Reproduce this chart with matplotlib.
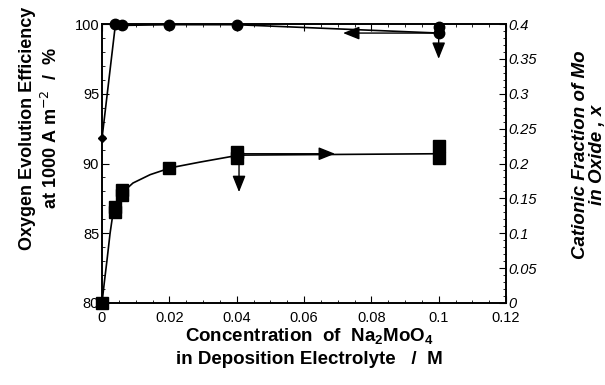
import matplotlib
matplotlib.use("Agg")
import matplotlib.pyplot as plt
from matplotlib.ticker import MultipleLocator, FixedLocator

plt.rcParams['font.family'] = ['Liberation Sans', 'DejaVu Sans']

# oxygen evolution efficiency (left axis)
eff_x = [0, 0.004, 0.006, 0.02, 0.04, 0.1]
eff_y = [91.8, 100.0, 99.9, 99.95, 99.95, 99.35]
eff_x2 = [0.1]
eff_y2 = [99.8]

# cationic fraction of Mo (right axis)
mo_x = [0, 0.004, 0.004, 0.006, 0.006, 0.02, 0.04, 0.04, 0.1, 0.1]
mo_y = [0, 0.130, 0.138, 0.155, 0.162, 0.194, 0.208, 0.217, 0.208, 0.225]
# fitted curve
fit_x = [0, 0.0007, 0.0015, 0.0024, 0.0033, 0.0053, 0.0092, 0.0143, 0.0205, 0.0291, 0.0407, 0.1]
fit_y = [0, 0.030, 0.062, 0.100, 0.130, 0.155, 0.172, 0.184, 0.194, 0.202, 0.212, 0.214]

x_ticks = [0, 0.02, 0.04, 0.06, 0.08, 0.1, 0.12]
x_labels = ['0', '0.02', '0.04', '0.06', '0.08', '0.1', '0.12']
left_ticks = [80, 85, 90, 95, 100]
right_ticks = [0, 0.05, 0.1, 0.15, 0.2, 0.25, 0.3, 0.35, 0.4]
right_labels = ['0', '0.05', '0.1', '0.15', '0.2', '0.25', '0.3', '0.35', '0.4']

fig = plt.figure(figsize=(6.05, 3.85), dpi=100)
ax = fig.add_axes([102 / 605, 1 - 303 / 385, 404 / 605, 279 / 385])
ax2 = ax.twinx()

ax.set_xlim(0, 0.12)
ax.set_ylim(80, 100)
ax2.set_ylim(0, 0.4)

# efficiency
ax.plot(eff_x, eff_y, color='black', lw=1.2, clip_on=False, zorder=3)
ax.plot(eff_x[1:], eff_y[1:], 'o', color='black', ms=7.5, clip_on=False, zorder=4)
ax.plot(eff_x2, eff_y2, 'o', color='black', ms=7.5, clip_on=False, zorder=4)
ax.plot(eff_x[:1], eff_y[:1], 'D', color='black', ms=4.5, clip_on=False, zorder=4)

# Mo fraction
ax2.plot(fit_x, fit_y, color='black', lw=1.2, clip_on=False, zorder=3)
ax2.plot(mo_x, mo_y, 's', color='black', ms=8.5, clip_on=False, zorder=4)

# arrows pointing to the relevant axis
arrow = dict(arrowstyle='-|>,head_length=1.0,head_width=0.4', color='black', lw=1.0,
             shrinkA=0, shrinkB=0)
ax.annotate('', xy=(0.0716, 99.35), xytext=(0.1, 99.35), arrowprops=arrow)
ax.annotate('', xy=(0.1, 97.5), xytext=(0.1, 99.3), arrowprops=arrow)
ax2.annotate('', xy=(0.0692, 0.214), xytext=(0.0407, 0.214), arrowprops=arrow)
ax2.annotate('', xy=(0.0407, 0.159), xytext=(0.0407, 0.2), arrowprops=arrow)

ax.xaxis.set_major_locator(FixedLocator(x_ticks))
ax.set_xticklabels(x_labels)
ax.xaxis.set_minor_locator(MultipleLocator(0.005))
ax.yaxis.set_major_locator(FixedLocator(left_ticks))
ax.yaxis.set_minor_locator(MultipleLocator(1))
ax2.yaxis.set_major_locator(FixedLocator(right_ticks))
ax2.set_yticklabels(right_labels, fontstyle='italic')
ax2.yaxis.set_minor_locator(MultipleLocator(0.01))

ax.tick_params(which='both', direction='in', top=True, right=False, labelsize=10.5, pad=2)
ax.tick_params(axis='x', which='major', pad=6)
ax.tick_params(which='major', length=5)
ax.tick_params(which='minor', length=2.5)
ax2.tick_params(which='both', direction='in', labelsize=10.5, pad=2)
ax2.tick_params(which='major', length=5)
ax2.tick_params(which='minor', length=2.5)
for a in (ax, ax2):
    for s in a.spines.values():
        s.set_linewidth(1.2)

fig.text(40 / 605, 1 - 128 / 385, 'Oxygen Evolution Efficiency\nat 1000 A m$^{-2}$  /  %',
         rotation=90, ha='center', va='center', fontsize=13, fontweight='bold',
         multialignment='center', linespacing=1.3)
fig.text(589 / 605, 1 - 155 / 385, 'Cationic Fraction of Mo\nin Oxide , x',
         rotation=90, ha='center', va='center', fontsize=13.5, fontweight='bold',
         fontstyle='italic', multialignment='center', linespacing=1.0)
fig.text(309 / 605, 1 - 347 / 385,
         'Concentration  of  Na$_{\\mathregular{2}}$MoO$_{\\mathregular{4}}$\nin Deposition Electrolyte   /  M',
         ha='center', va='center', fontsize=13.5, fontweight='bold',
         multialignment='center', linespacing=1.3)

fig.savefig('out.png', dpi=100)
